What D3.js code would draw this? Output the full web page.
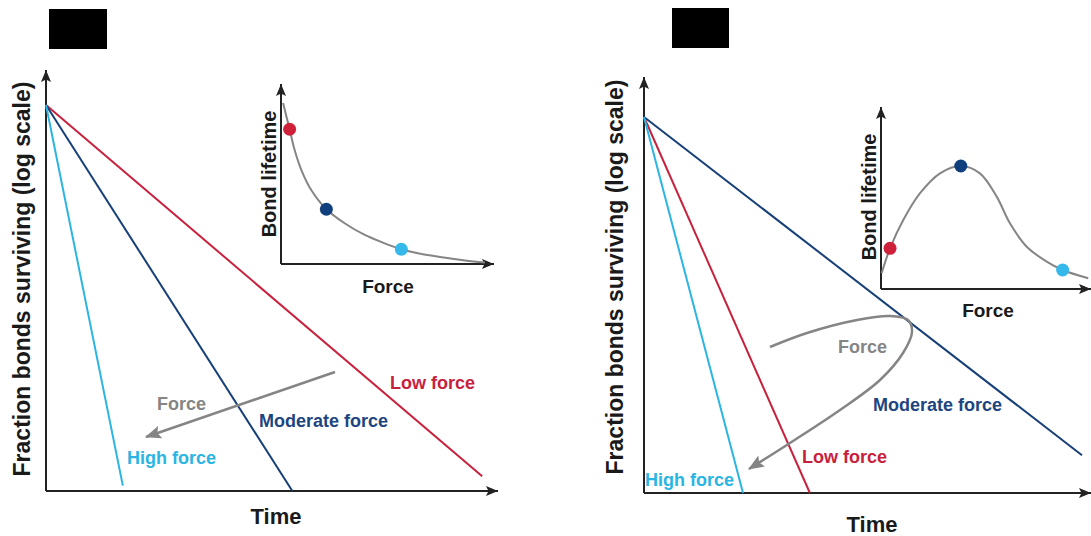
<!DOCTYPE html>
<html>
<head>
<meta charset="utf-8">
<script src="https://cdn.jsdelivr.net/npm/d3@7"></script>
<style>
  html, body { margin: 0; padding: 0; background: #fff; }
  svg { display: block; font-family: "Liberation Sans", Arial, sans-serif; }
</style>
</head>
<body>
<svg id="chart" width="1091" height="536"></svg>
<script>
// Series order everywhere: low, moderate, high force
const seriesNames = ["Low force", "Moderate force", "High force"];

// Decay curves: all start at fraction 1 at time 0
const timeDomain = [0, 10];
const fractionDomain = [0.001, 1];

// Slip bond: end point of each decay line (time, fraction surviving)
const slipEndTime = [9.65, 5.45, 1.7];
const slipEndFraction = [0.0013, 0.001, 0.0011];

// Catch bond: end point of each decay line
const catchEndTime = [3.72, 9.82, 2.22];
const catchEndFraction = [0.001, 0.002, 0.001];

// Inset curves: bond lifetime vs force
const forceDomain = [0, 10];
const lifetimeDomain = [0, 10];
const slipForce = [0.1, 0.41, 0.65, 0.97, 1.44, 2.16, 3.03, 3.99, 4.94, 5.73, 6.52, 7.57, 8.76, 9.71];
const slipLifetime = [9.2, 7.7, 6.51, 5.37, 4.23, 3.13, 2.33, 1.66, 1.18, 0.84, 0.61, 0.4, 0.2, 0.09];
const slipDotForce = [0.41, 2.16, 5.73];
const slipDotLifetime = [7.7, 3.13, 0.84];

const catchForce = [0.03, 0.43, 1.06, 1.86, 2.81, 3.8, 4.71, 5.51, 6.14, 6.94, 7.89, 8.65, 9.87];
const catchLifetime = [0.88, 2.27, 3.85, 5.35, 6.46, 6.87, 6.46, 5.16, 3.67, 2.36, 1.53, 1.06, 0.6];
const catchDotForce = [0.43, 3.8, 8.65];
const catchDotLifetime = [2.27, 6.87, 1.06];

// Styling
const lineColors = ["#c8213d", "#173f78", "#2bb5e2"];
const dotColors = ["#d0213b", "#0f3f7c", "#35b9ea"];
const labelColors = ["#c8213d", "#1d4580", "#2bb5e2"];
const axisColor = "#222";
const grey = "#858585";

const svg = d3.select("#chart");
const defs = svg.append("defs");

defs.append("marker")
  .attr("id", "axisHead")
  .attr("markerUnits", "userSpaceOnUse")
  .attr("markerWidth", 12).attr("markerHeight", 10)
  .attr("viewBox", "0 0 12 10")
  .attr("refX", 12).attr("refY", 5)
  .attr("orient", "auto")
  .append("path").attr("d", "M0,0 L12,5 L0,10 L2.5,5 Z").attr("fill", axisColor);

defs.append("marker")
  .attr("id", "greyHead")
  .attr("markerUnits", "userSpaceOnUse")
  .attr("markerWidth", 16).attr("markerHeight", 13)
  .attr("viewBox", "0 0 16 13")
  .attr("refX", 15).attr("refY", 6.5)
  .attr("orient", "auto")
  .append("path").attr("d", "M0,0 L16,6.5 L0,13 L3,6.5 Z").attr("fill", grey);

function axisArrows(g, x0, y0, xEnd, yEnd, width) {
  g.append("line").attr("x1", x0).attr("y1", y0).attr("x2", x0).attr("y2", yEnd)
    .attr("stroke", axisColor).attr("stroke-width", width).attr("marker-end", "url(#axisHead)");
  g.append("line").attr("x1", x0).attr("y1", y0).attr("x2", xEnd).attr("y2", y0)
    .attr("stroke", axisColor).attr("stroke-width", width).attr("marker-end", "url(#axisHead)");
}

function drawDecay(cfg) {
  const g = svg.append("g");
  const x = d3.scaleLinear().domain(timeDomain).range(cfg.xRange);
  const y = d3.scaleLog().domain(fractionDomain).range(cfg.yRange);

  axisArrows(g, cfg.xRange[0], cfg.yRange[0], cfg.xAxisEnd, cfg.yAxisEnd, 2);

  const line = d3.line().x(d => x(d[0])).y(d => y(d[1]));
  seriesNames.forEach((name, i) => {
    g.append("path")
      .attr("d", line([[0, 1], [cfg.endTime[i], cfg.endFraction[i]]]))
      .attr("fill", "none").attr("stroke", lineColors[i]).attr("stroke-width", 2);
  });

  seriesNames.forEach((name, i) => {
    g.append("text").attr("x", cfg.labelPos[i][0]).attr("y", cfg.labelPos[i][1])
      .attr("fill", labelColors[i]).attr("font-size", 18).attr("font-weight", "bold")
      .text(name);
  });

  g.append("text")
    .attr("transform", `translate(${cfg.yTitleX},${cfg.yTitleY}) rotate(-90)`)
    .attr("text-anchor", "middle").attr("font-size", 23).attr("font-weight", "bold")
    .attr("fill", "#1a1a1a")
    .text("Fraction bonds surviving (log scale)");

  g.append("text").attr("x", cfg.xTitle[0]).attr("y", cfg.xTitle[1])
    .attr("text-anchor", "middle").attr("font-size", 22).attr("font-weight", "bold")
    .attr("fill", "#1a1a1a").text("Time");

  g.append("text").attr("x", cfg.forcePos[0]).attr("y", cfg.forcePos[1])
    .attr("fill", grey).attr("font-size", 18).attr("font-weight", "bold").text("Force");

  g.append("path")
    .attr("d", d3.line().curve(d3.curveCatmullRom.alpha(0.5))(cfg.arrowPath))
    .attr("fill", "none").attr("stroke", grey).attr("stroke-width", 2.5)
    .attr("marker-end", "url(#greyHead)");
}

function drawInset(cfg) {
  const g = svg.append("g");
  const x = d3.scaleLinear().domain(forceDomain).range(cfg.xRange);
  const y = d3.scaleLinear().domain(lifetimeDomain).range(cfg.yRange);

  axisArrows(g, cfg.xRange[0], cfg.yRange[0], cfg.xAxisEnd, cfg.yAxisEnd, 2);

  const pts = cfg.force.map((f, i) => [f, cfg.lifetime[i]]);
  g.append("path")
    .attr("d", d3.line().x(d => x(d[0])).y(d => y(d[1])).curve(d3.curveCatmullRom.alpha(0.5))(pts))
    .attr("fill", "none").attr("stroke", grey).attr("stroke-width", 2);

  cfg.dotForce.forEach((f, i) => {
    g.append("circle").attr("cx", x(f)).attr("cy", y(cfg.dotLifetime[i])).attr("r", 6.5)
      .attr("fill", dotColors[i]);
  });

  g.append("text")
    .attr("transform", `translate(${cfg.yTitle[0]},${cfg.yTitle[1]}) rotate(-90)`)
    .attr("text-anchor", "middle").attr("font-size", 20).attr("font-weight", "bold")
    .attr("fill", "#1a1a1a").text("Bond lifetime");

  g.append("text").attr("x", cfg.xTitle[0]).attr("y", cfg.xTitle[1])
    .attr("text-anchor", "middle").attr("font-size", 19).attr("font-weight", "bold")
    .attr("fill", "#1a1a1a").text("Force");
}

// Panel markers
svg.append("rect").attr("x", 49).attr("y", 9).attr("width", 58).attr("height", 40).attr("fill", "#000");
svg.append("rect").attr("x", 672).attr("y", 8).attr("width", 57).attr("height", 40).attr("fill", "#000");

// Slip bond panel
drawDecay({
  xRange: [46, 498], yRange: [491, 105], xAxisEnd: 498, yAxisEnd: 70,
  endTime: slipEndTime, endFraction: slipEndFraction,
  labelPos: [[390, 389], [259, 427], [127, 464]],
  yTitleX: 30, yTitleY: 279, xTitle: [276, 524],
  forcePos: [157, 410],
  arrowPath: [[335, 372], [146, 437]]
});
drawInset({
  xRange: [281, 491], yRange: [264, 89], xAxisEnd: 494, yAxisEnd: 84,
  force: slipForce, lifetime: slipLifetime,
  dotForce: slipDotForce, dotLifetime: slipDotLifetime,
  yTitle: [276, 174], xTitle: [388, 293]
});

// Catch bond panel
drawDecay({
  xRange: [644, 1090], yRange: [493, 117], xAxisEnd: 1091, yAxisEnd: 77,
  endTime: catchEndTime, endFraction: catchEndFraction,
  labelPos: [[802, 463], [873, 411], [645, 486]],
  yTitleX: 623, yTitleY: 277, xTitle: [872, 532],
  forcePos: [838, 353],
  arrowPath: [[770, 347], [807, 333], [857, 320], [890, 316], [908, 320], [912, 332],
              [903, 353], [880, 380], [840, 410], [790, 443], [749, 469]]
});
drawInset({
  xRange: [881, 1091], yRange: [289, 110], xAxisEnd: 1091, yAxisEnd: 107,
  force: catchForce, lifetime: catchLifetime,
  dotForce: catchDotForce, dotLifetime: catchDotLifetime,
  yTitle: [876, 197], xTitle: [988, 317]
});
</script>
</body>
</html>
